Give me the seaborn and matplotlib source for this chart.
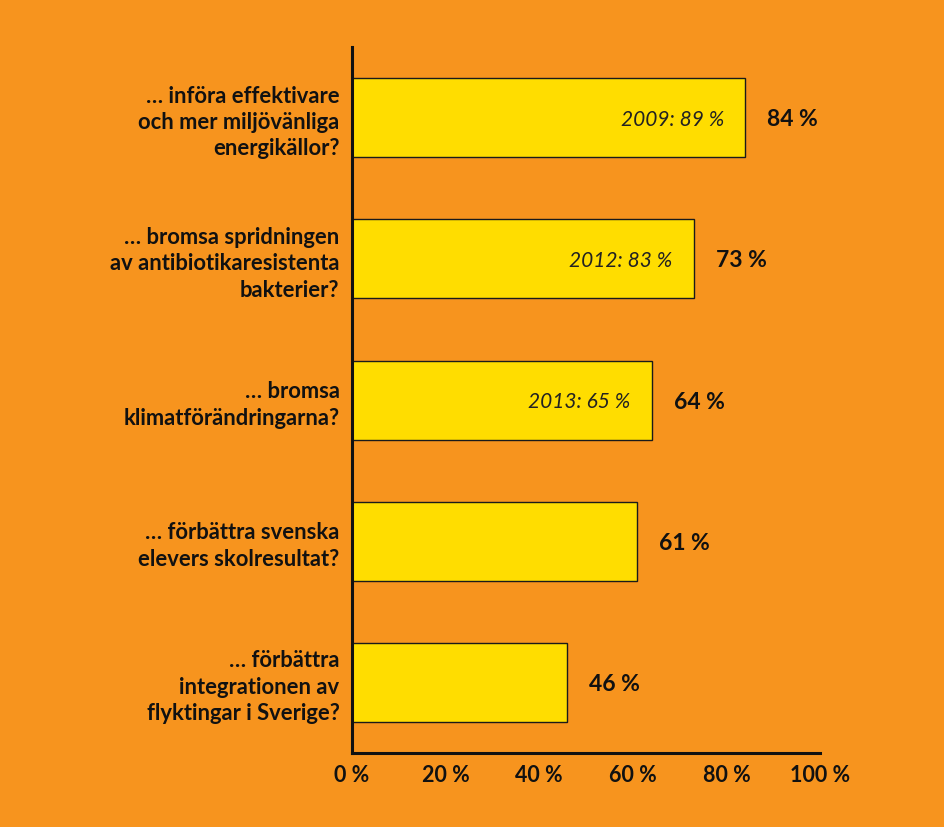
import matplotlib
matplotlib.use("Agg")
import matplotlib.pyplot as plt
import seaborn as sns
import pandas as pd

categories = [
    "… införa effektivare\noch mer miljövänliga\nenergikällor?",
    "… bromsa spridningen\nav antibiotikaresistenta\nbakterier?",
    "… bromsa\nklimatförändringarna?",
    "… förbättra svenska\nelevers skolresultat?",
    "… förbättra\nintegrationen av\nflyktingar i Sverige?",
]
values = [84, 73, 64, 61, 46]
previous = ["2009: 89 %", "2012: 83 %", "2013: 65 %", "", ""]
xticks = [0, 20, 40, 60, 80, 100]
xticklabels = ["0 %", "20 %", "40 %", "60 %", "80 %", "100 %"]

BG = "#F7941E"
YELLOW = "#FFDD00"

sns.set_theme(style="white")
plt.rcParams["font.family"] = ["Lato", "DejaVu Sans"]

df = pd.DataFrame({"cat": categories, "val": values})

fig = plt.figure(figsize=(9.45, 8.27), dpi=100, facecolor=BG)
ax = fig.add_axes([0.3725, 0.0895, 0.4952, 0.8535])
ax.set_facecolor(BG)

sns.barplot(data=df, x="val", y="cat", orient="h", color=YELLOW,
            saturation=1, width=0.56, edgecolor="#1a1a1a", linewidth=1.0, ax=ax)

ax.set_xlim(0, 100)
ax.set_ylim(4.5, -0.5)
ax.set_xlabel("")
ax.set_ylabel("")
ax.set_xticks(xticks)
ax.set_xticklabels(xticklabels, fontsize=15.5, fontweight="bold", color="#111111")
ax.set_yticks(range(len(categories)))
ax.set_yticklabels(categories, fontsize=15.8, fontweight="bold", color="#111111",
                   linespacing=1.32, ha="right")
ax.tick_params(axis="both", length=0)
ax.tick_params(axis="y", pad=9)
ax.tick_params(axis="x", pad=9)

for s in ["top", "right"]:
    ax.spines[s].set_visible(False)
for s in ["left", "bottom"]:
    ax.spines[s].set_color("#111111")
    ax.spines[s].set_linewidth(2.2)

for i, (v, p) in enumerate(zip(values, previous)):
    ax.annotate(f"{v} %", xy=(v, i), xytext=(22, -2), textcoords="offset pixels",
                ha="left", va="center", fontsize=16.5, fontweight="bold", color="#111111")
    if p:
        ax.annotate(p, xy=(v, i), xytext=(-21, -2), textcoords="offset pixels",
                    ha="right", va="center", fontsize=15, fontstyle="italic",
                    fontweight="normal", color="#222222")

fig.savefig("out.png", dpi=100, facecolor=BG)
